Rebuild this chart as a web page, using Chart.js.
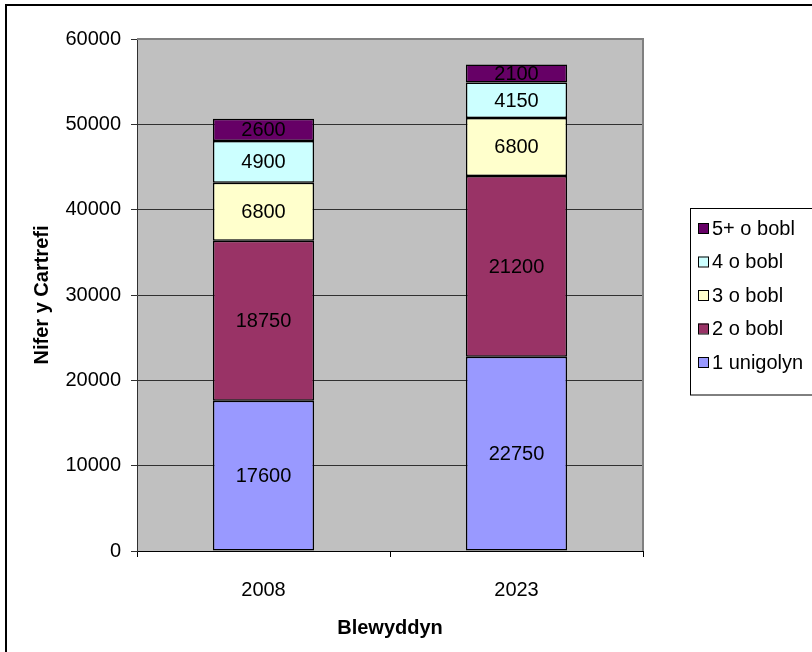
<!DOCTYPE html>
<html>
<head>
<meta charset="utf-8">
<script src="https://cdn.jsdelivr.net/npm/chart.js@4/dist/chart.umd.min.js"></script>
<style>
  html, body { margin: 0; padding: 0; background: #fff; overflow: hidden; }
  #wrap { position: relative; width: 812px; height: 652px; }
</style>
</head>
<body>
<div id="wrap"><canvas id="households" width="812" height="652"></canvas></div>
<script>
// data
const years = ['2008', '2023'];
const seriesNames = ['1 unigolyn', '2 o bobl', '3 o bobl', '4 o bobl', '5+ o bobl'];
const unigolyn = [17600, 22750];
const dauBobl = [18750, 21200];
const triBobl = [6800, 6800];
const pedwarBobl = [4900, 4150];
const pumpBobl = [2600, 2100];
const yMax = 60000;
const yStep = 10000;

const colours = ['#9999FF', '#993366', '#FFFFCC', '#CCFFFF', '#660066'];
const FONT = '"Liberation Sans", Arial, sans-serif';

Chart.defaults.font.family = FONT;
Chart.defaults.font.size = 20;
Chart.defaults.color = '#000';

const seriesValues = [unigolyn, dauBobl, triBobl, pedwarBobl, pumpBobl];

// cefndir llwyd + ffin yr ardal blot + ffin allanol
const plotBg = {
  id: 'plotBg',
  beforeDraw(chart) {
    const { ctx, chartArea: a } = chart;
    ctx.save();
    ctx.fillStyle = '#fff';
    ctx.fillRect(0, 0, chart.width, chart.height);
    ctx.fillStyle = '#C0C0C0';
    ctx.fillRect(a.left, a.top, a.right - a.left, a.bottom - a.top);
    ctx.strokeStyle = '#000';
    ctx.lineWidth = 2;
    ctx.strokeRect(6, 5, chart.width + 40, chart.height + 40);
    ctx.restore();
  },
  beforeDatasetsDraw(chart) {
    const { ctx, chartArea: a } = chart;
    ctx.save();
    ctx.strokeStyle = '#808080';
    ctx.lineWidth = 2;
    ctx.beginPath();
    ctx.moveTo(a.left, a.top);
    ctx.lineTo(a.right, a.top);
    ctx.lineTo(a.right, a.bottom);
    ctx.stroke();
    ctx.restore();
  }
};

// labeli gwerth yng nghanol pob segment
const segLabels = {
  id: 'segLabels',
  afterDatasetsDraw(chart) {
    const { ctx } = chart;
    ctx.save();
    ctx.font = '20px ' + FONT;
    ctx.fillStyle = '#000';
    ctx.textAlign = 'center';
    ctx.textBaseline = 'middle';
    chart.data.datasets.forEach((ds, i) => {
      chart.getDatasetMeta(i).data.forEach((bar, j) => {
        const y = (bar.y + bar.base) / 2;
        ctx.fillText(String(ds.data[j]), bar.x, y + 1);
      });
    });
    ctx.restore();
  }
};

// allwedd ar y dde (trefn wrthdro)
const sideLegend = {
  id: 'sideLegend',
  afterDraw(chart) {
    const { ctx } = chart;
    const n = chart.data.datasets.length;
    const x0 = 690.5, y0 = 208.5, rowH = 33.5;
    ctx.save();
    ctx.strokeStyle = '#000';
    ctx.lineWidth = 1;
    ctx.strokeRect(x0, y0, 200, 20 + n * rowH - 1);
    ctx.font = '20px ' + FONT;
    ctx.textBaseline = 'middle';
    ctx.textAlign = 'left';
    for (let k = 0; k < n; k++) {
      const ds = chart.data.datasets[n - 1 - k];
      const cy = 228 + k * rowH;
      ctx.fillStyle = ds.backgroundColor;
      ctx.fillRect(698, cy - 5, 10, 10);
      ctx.strokeRect(698.5, cy - 4.5, 10, 10);
      ctx.fillStyle = '#000';
      ctx.fillText(ds.label, 712, cy + 1);
    }
    ctx.restore();
  }
};

new Chart(document.getElementById('households'), {
  type: 'bar',
  data: {
    labels: years,
    datasets: seriesNames.map((name, i) => ({
      label: name,
      data: seriesValues[i],
      backgroundColor: colours[i],
      borderColor: '#000',
      borderWidth: 1.5,
      borderSkipped: false,
      barPercentage: 0.4,
      categoryPercentage: 1.0
    }))
  },
  options: {
    responsive: false,
    animation: false,
    devicePixelRatio: 1,
    layout: { padding: { left: 0, top: 39, right: 169, bottom: 0 } },
    plugins: {
      legend: { display: false },
      tooltip: { enabled: false }
    },
    scales: {
      x: {
        stacked: true,
        grid: { offset: true, drawOnChartArea: false, tickLength: 6, color: '#000' },
        border: { color: '#000', width: 1 },
        ticks: { padding: 21, font: { size: 20 }, color: '#000' },
        title: { display: true, text: 'Blewyddyn', font: { size: 20, weight: 'bold' }, color: '#000', padding: { top: 0, bottom: 12 } },
        afterFit: (s) => { s.height = 101; }
      },
      y: {
        stacked: true,
        min: 0,
        max: yMax,
        grid: { color: '#303030', tickLength: 6, lineWidth: 1 },
        border: { color: '#303030', width: 1 },
        ticks: { stepSize: yStep, padding: 10, font: { size: 20 }, color: '#000', callback: (v) => String(v) },
        title: { display: true, text: 'Nifer y Cartrefi', font: { size: 20, weight: 'bold' }, color: '#000', padding: { top: 30, bottom: 0 } },
        afterFit: (s) => { s.width = 137; }
      }
    }
  },
  plugins: [plotBg, segLabels, sideLegend]
});
</script>
</body>
</html>
